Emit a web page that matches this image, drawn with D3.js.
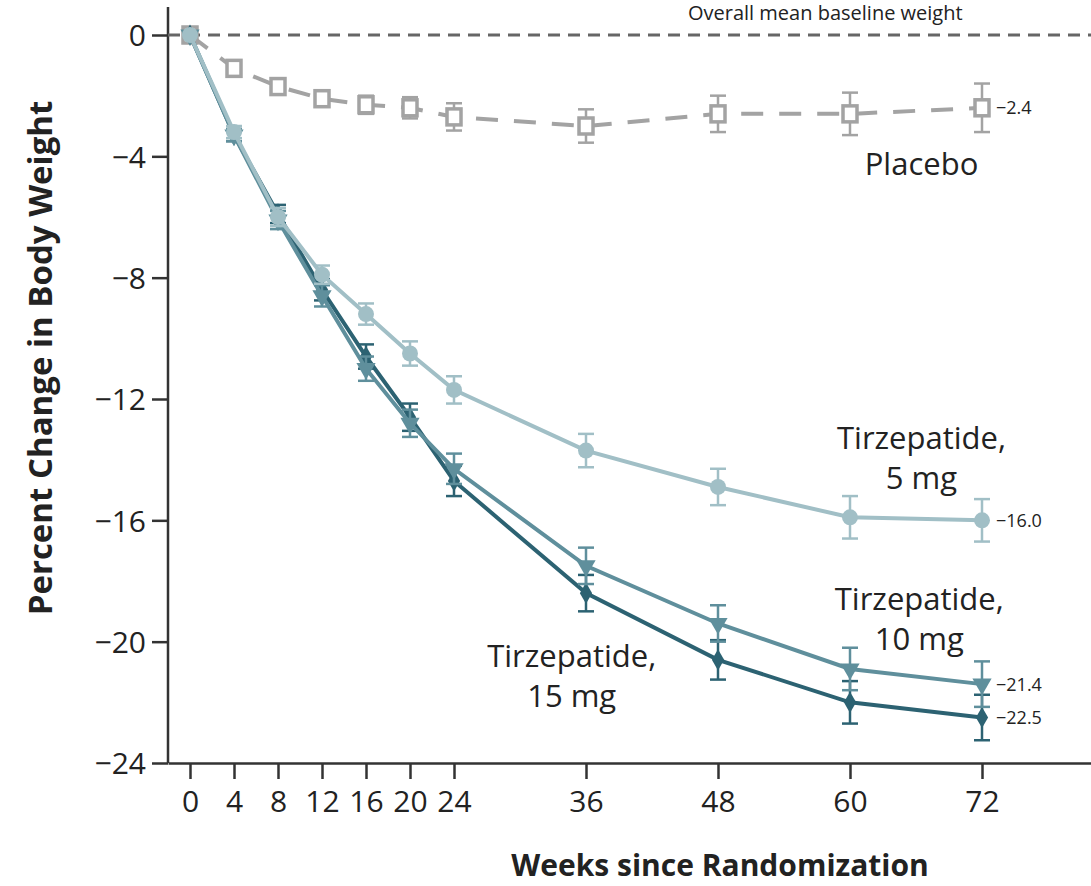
<!DOCTYPE html>
<html>
<head>
<meta charset="utf-8">
<script src="https://cdn.jsdelivr.net/npm/d3@7"></script>
<style>
  body { margin: 0; background: #fff; }
  svg { display: block; font-family: "Open Sans", sans-serif; }
</style>
</head>
<body>
<div id="chart"></div>
<script>
// data
const weeks = [0, 4, 8, 12, 16, 20, 24, 36, 48, 60, 72];
const yTicks = [0, -4, -8, -12, -16, -20, -24];

const placebo = [0, -1.1, -1.7, -2.1, -2.3, -2.4, -2.7, -3.0, -2.6, -2.6, -2.4];
const placeboErr = [0, 0.15, 0.2, 0.25, 0.3, 0.35, 0.45, 0.55, 0.6, 0.7, 0.8];

const tirz5 = [0, -3.2, -6.0, -7.9, -9.2, -10.5, -11.7, -13.7, -14.9, -15.9, -16.0];
const tirz5Err = [0, 0.2, 0.3, 0.3, 0.35, 0.4, 0.45, 0.55, 0.6, 0.7, 0.7];

const tirz10 = [0, -3.3, -6.1, -8.6, -11.0, -12.8, -14.3, -17.5, -19.4, -20.9, -21.4];
const tirz10Err = [0, 0.2, 0.3, 0.35, 0.4, 0.45, 0.5, 0.6, 0.6, 0.7, 0.75];

const tirz15 = [0, -3.3, -5.9, -8.4, -10.6, -12.6, -14.7, -18.4, -20.6, -22.0, -22.5];
const tirz15Err = [0, 0.2, 0.3, 0.35, 0.4, 0.45, 0.5, 0.6, 0.65, 0.7, 0.75];

const endLabels = ["−2.4", "−16.0", "−21.4", "−22.5"];

const width = 1091, height = 886;

const svg = d3.select("#chart").append("svg")
  .attr("width", width)
  .attr("height", height);

const x = d3.scaleLinear().domain([-2, 82]).range([168, 1092]);
const y = d3.scaleLinear().domain([0, -24]).range([35, 763]);

const fmt = d => d === 0 ? "0" : "−" + Math.abs(d);

// y axis
const yAxis = svg.append("g")
  .attr("transform", `translate(${x(-2)},0)`)
  .call(d3.axisLeft(y).tickValues(yTicks).tickFormat(fmt).tickSize(16).tickSizeOuter(0).tickPadding(6));
yAxis.select(".domain").remove();
yAxis.append("line")
  .attr("x1", 0).attr("x2", 0)
  .attr("y1", 7).attr("y2", y(-24))
  .attr("stroke", "#333").attr("stroke-width", 2.5);

// x axis
const xAxis = svg.append("g")
  .attr("transform", `translate(0,${y(-24)})`)
  .call(d3.axisBottom(x).tickValues(weeks).tickSize(16).tickSizeOuter(0).tickPadding(12));
xAxis.select(".domain").attr("stroke", "#333").attr("stroke-width", 2.5);

svg.selectAll(".tick line").attr("stroke", "#333").attr("stroke-width", 2.5);
svg.selectAll(".tick text")
  .attr("fill", "#222")
  .style("font-size", "30px")
  .style("font-family", "'Open Sans', sans-serif");
yAxis.selectAll(".tick text").attr("dy", "0.36em");

// axis titles
svg.append("text")
  .attr("x", 720).attr("y", 876)
  .attr("text-anchor", "middle")
  .attr("fill", "#222")
  .style("font-size", "30px")
  .style("font-weight", "bold")
  .text("Weeks since Randomization");

svg.append("text")
  .attr("transform", `translate(52,358) rotate(-90)`)
  .attr("text-anchor", "middle")
  .attr("fill", "#222")
  .style("font-size", "33px")
  .style("font-weight", "bold")
  .text("Percent Change in Body Weight");

// header text at top (cut off in the original)
svg.append("text")
  .attr("x", 688).attr("y", 20)
  .attr("fill", "#222")
  .style("font-size", "20px")
  .text("Overall mean baseline weight");

// reference line at zero
svg.append("line")
  .attr("x1", x(-2)).attr("x2", width)
  .attr("y1", y(0)).attr("y2", y(0))
  .attr("stroke", "#666")
  .attr("stroke-width", 3)
  .attr("stroke-dasharray", "12,8");

const line = d3.line().x((d, i) => x(weeks[i])).y(d => y(d));

const series = [
  { name: "placebo", values: placebo, err: placeboErr, color: "#a3a3a3", dash: "22,16", shape: "square" },
  { name: "tirz15", values: tirz15, err: tirz15Err, color: "#2c6272", dash: null, shape: "diamond" },
  { name: "tirz10", values: tirz10, err: tirz10Err, color: "#5f8f9c", dash: null, shape: "triangle" },
  { name: "tirz5", values: tirz5, err: tirz5Err, color: "#a1bfc6", dash: null, shape: "circle" }
];

series.forEach(s => {
  const g = svg.append("g").attr("class", s.name);
  const pts = s.values.map((v, i) => ({ w: weeks[i], v: v, e: s.err[i] }));

  g.append("path")
    .datum(s.values)
    .attr("d", line)
    .attr("fill", "none")
    .attr("stroke", s.color)
    .attr("stroke-width", 4)
    .attr("stroke-dasharray", s.dash);

  // error bars
  const eb = g.selectAll(".err").data(pts.filter(p => p.e > 0)).enter().append("g")
    .attr("class", "err");
  eb.append("line")
    .attr("x1", p => x(p.w)).attr("x2", p => x(p.w))
    .attr("y1", p => y(p.v + p.e)).attr("y2", p => y(p.v - p.e))
    .attr("stroke", s.color).attr("stroke-width", 2.5);
  [1, -1].forEach(sign => {
    eb.append("line")
      .attr("x1", p => x(p.w) - 8).attr("x2", p => x(p.w) + 8)
      .attr("y1", p => y(p.v + sign * p.e)).attr("y2", p => y(p.v + sign * p.e))
      .attr("stroke", s.color).attr("stroke-width", 2.5);
  });

  // markers
  const m = g.selectAll(".mk").data(pts).enter();
  if (s.shape === "square") {
    m.append("rect")
      .attr("x", p => x(p.w) - 7)
      .attr("y", p => y(p.v) - 8)
      .attr("width", 14).attr("height", 16)
      .attr("fill", "#fff")
      .attr("stroke", s.color).attr("stroke-width", 3.5);
  } else if (s.shape === "circle") {
    m.append("circle")
      .attr("cx", p => x(p.w))
      .attr("cy", p => y(p.v))
      .attr("r", 8)
      .attr("fill", s.color);
  } else {
    const sym = s.shape === "diamond"
      ? d3.symbol().type(d3.symbolDiamond).size(130)
      : d3.symbol().type(d3.symbolTriangle).size(160);
    m.append("path")
      .attr("d", sym)
      .attr("transform", p => `translate(${x(p.w)},${y(p.v)})` + (s.shape === "triangle" ? " rotate(180)" : ""))
      .attr("fill", s.color);
  }
});

// end value labels
const lastVals = [placebo, tirz5, tirz10, tirz15].map(v => v[v.length - 1]);
svg.selectAll(".endlab").data(lastVals).enter().append("text")
  .attr("x", x(72) + 14)
  .attr("y", d => y(d))
  .attr("dy", "0.36em")
  .attr("fill", "#222")
  .style("font-size", "18px")
  .text((d, i) => endLabels[i]);

// series labels
const labels = [
  { lines: ["Placebo"], wx: 66.5, wy: -4.6 },
  { lines: ["Tirzepatide,", "5 mg"], wx: 66.5, wy: -13.65 },
  { lines: ["Tirzepatide,", "10 mg"], wx: 66.3, wy: -18.95 },
  { lines: ["Tirzepatide,", "15 mg"], wx: 34.7, wy: -20.85 }
];
labels.forEach(l => {
  const t = svg.append("text")
    .attr("text-anchor", "middle")
    .attr("fill", "#222")
    .style("font-size", "31px");
  l.lines.forEach((s, i) => {
    t.append("tspan")
      .attr("x", x(l.wx))
      .attr("y", y(l.wy) + i * 40)
      .text(s);
  });
});
</script>
</body>
</html>
